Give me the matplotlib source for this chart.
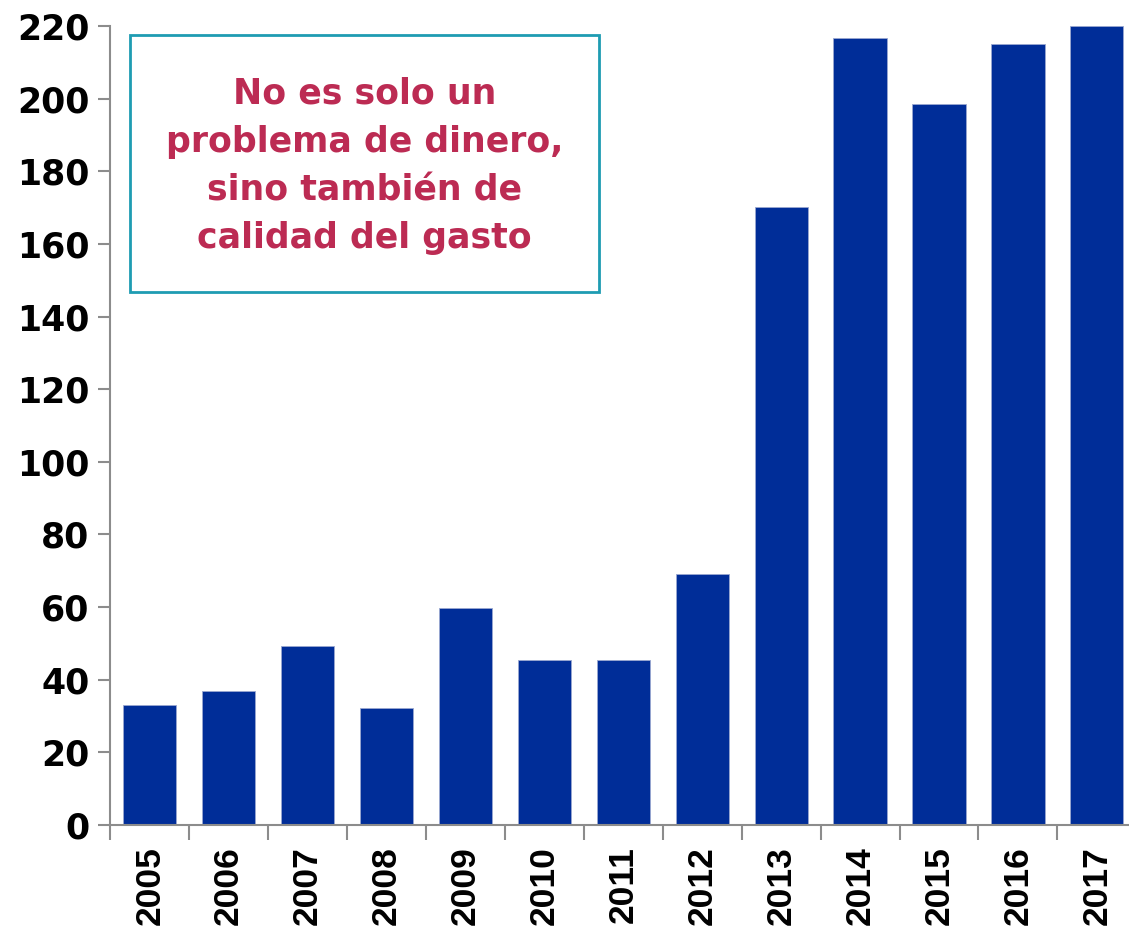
import matplotlib
matplotlib.use("Agg")
import matplotlib.pyplot as plt
from matplotlib.patches import Rectangle
import numpy as np

# Data
years = ["2005", "2006", "2007", "2008", "2009", "2010", "2011",
         "2012", "2013", "2014", "2015", "2016", "2017"]
values = [33.0, 36.9, 49.3, 32.2, 59.7, 45.4, 45.4,
          69.1, 170.2, 216.7, 198.5, 215.0, 220.0]
y_ticks = [0, 20, 40, 60, 80, 100, 120, 140, 160, 180, 200, 220]
note = "No es solo un\nproblema de dinero,\nsino también de\ncalidad del gasto"

bar_color = "#002D98"
note_color = "#BC2B53"
box_color = "#1E9CB2"
axis_color = "#8C8C8C"

fig = plt.figure(figsize=(11.29, 9.33), dpi=100)
ax = fig.add_axes([110.3 / 1129, 108 / 933, 1026 / 1129, 799 / 933])

x = np.arange(len(years))
ax.bar(x, values, width=0.675, color=bar_color, edgecolor="#9AA8D0", linewidth=0.6)

ax.set_xlim(-0.5, len(years) - 0.5)
ax.set_ylim(0, 220)

# y axis
ax.set_yticks(y_ticks)
ax.set_yticklabels([str(v) for v in y_ticks], fontsize=25, fontweight="bold",
                   family="DejaVu Sans")
ax.tick_params(axis="y", direction="out", length=9, width=1.5, color=axis_color, pad=6)

# x axis: tick marks at category boundaries, labels centered
ax.set_xticks(np.arange(len(years) + 1) - 0.5)
ax.set_xticklabels([])
ax.set_xticks(x, minor=True)
ax.set_xticklabels(years, minor=True, rotation=90, fontsize=25.5, fontweight="bold",
                   family="Liberation Sans")
ax.tick_params(axis="x", which="major", direction="out", length=11, width=1.5, color=axis_color)
ax.tick_params(axis="x", which="minor", length=0, pad=15)

for side in ["top", "right"]:
    ax.spines[side].set_visible(False)
for side in ["left", "bottom"]:
    ax.spines[side].set_color(axis_color)
    ax.spines[side].set_linewidth(1.5)

# annotation box
box = Rectangle((130 / 1129, (933 - 292) / 933), 469 / 1129, 257 / 933,
                transform=fig.transFigure, facecolor="white",
                edgecolor=box_color, linewidth=2, zorder=5)
fig.patches.append(box)
fig.text(364.5 / 1129, (933 - 166) / 933, note, ha="center", va="center",
         fontsize=25, fontweight="bold", color=note_color, linespacing=1.52,
         family="DejaVu Sans", zorder=6)

fig.savefig("out.png", dpi=100)
